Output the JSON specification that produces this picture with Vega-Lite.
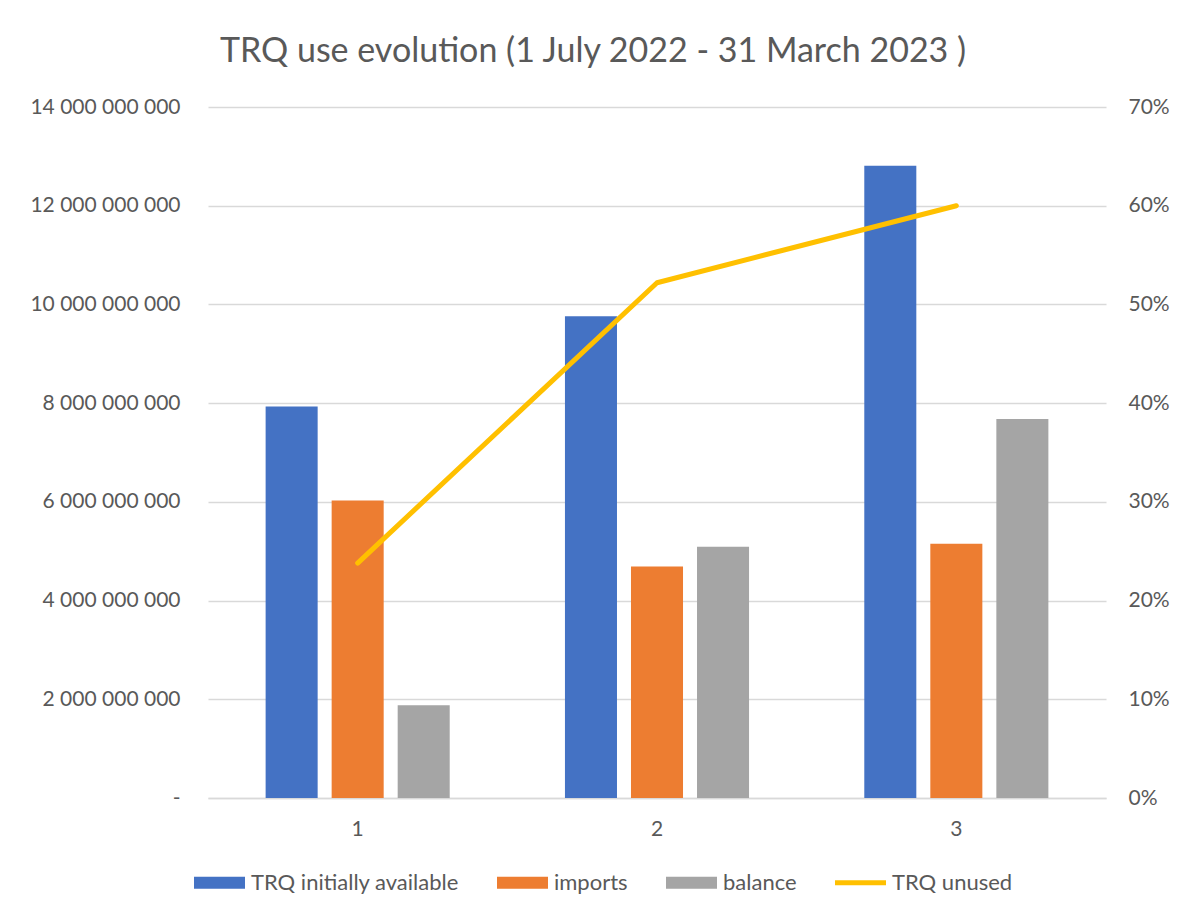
{
  "$schema": "https://vega.github.io/schema/vega-lite/v6.json",
  "autosize": "none",
  "width": 898,
  "height": 691,
  "padding": {"left": 208, "top": 107, "right": 73, "bottom": 117},
  "background": "white",
  "title": {
    "text": "TRQ use evolution (1 July 2022 - 31 March 2023 )",
    "font": "Lato",
    "fontSize": 34,
    "fontWeight": "normal",
    "color": "#595959",
    "anchor": "middle",
    "frame": "group",
    "dx": -64,
    "offset": 27
  },
  "datasets": {
    "bars": [
      {"cat": "1", "series": "TRQ initially available", "value": 7930000000},
      {"cat": "1", "series": "imports", "value": 6030000000},
      {"cat": "1", "series": "balance", "value": 1880000000},
      {"cat": "2", "series": "TRQ initially available", "value": 9760000000},
      {"cat": "2", "series": "imports", "value": 4690000000},
      {"cat": "2", "series": "balance", "value": 5090000000},
      {"cat": "3", "series": "TRQ initially available", "value": 12810000000},
      {"cat": "3", "series": "imports", "value": 5150000000},
      {"cat": "3", "series": "balance", "value": 7680000000}
    ],
    "line": [
      {"cat": "1", "series": "TRQ unused", "share": 0.238},
      {"cat": "2", "series": "TRQ unused", "share": 0.522},
      {"cat": "3", "series": "TRQ unused", "share": 0.600}
    ]
  },
  "encoding": {
    "x": {
      "field": "cat",
      "type": "nominal",
      "scale": {"paddingInner": 0.385, "paddingOuter": 0.1925},
      "axis": {
        "title": null,
        "labelAngle": 0,
        "ticks": false,
        "tickSize": 0,
        "labelPadding": 20,
        "labelFont": "Lato",
        "labelFontSize": 21,
        "labelColor": "#595959",
        "domainColor": "#d9d9d9",
        "domainWidth": 1.5
      }
    }
  },
  "layer": [
    {
      "data": {"name": "bars"},
      "mark": {"type": "bar"},
      "encoding": {
        "xOffset": {
          "field": "series",
          "type": "nominal",
          "sort": ["TRQ initially available", "imports", "balance"],
          "scale": {"paddingInner": 0.212, "paddingOuter": 0}
        },
        "y": {
          "field": "value",
          "type": "quantitative",
          "scale": {"domain": [0, 14000000000], "nice": false},
          "axis": {
            "title": null,
            "values": [0, 2000000000, 4000000000, 6000000000, 8000000000, 10000000000, 12000000000, 14000000000],
            "labelExpr": "datum.value == 0 ? '-' : replace(replace(replace(format(datum.value, ','), ',', ' '), ',', ' '), ',', ' ')",
            "ticks": false,
            "tickSize": 0,
            "domain": false,
            "labelPadding": 28,
            "labelFont": "Lato",
            "labelFontSize": 21,
            "labelColor": "#595959",
            "grid": true,
            "gridColor": "#d9d9d9",
            "gridWidth": 1.5
          }
        },
        "color": {
          "field": "series",
          "type": "nominal",
          "scale": {
            "domain": ["TRQ initially available", "imports", "balance", "TRQ unused"],
            "range": ["#4472C4", "#ED7D31", "#A5A5A5", "#FFC000"]
          },
          "legend": {
            "title": null,
            "orient": "none",
            "direction": "horizontal",
            "legendX": -14,
            "legendY": 750,
            "labelFont": "Lato",
            "labelFontSize": 22,
            "labelColor": "#595959",
            "labelLimit": 0,
            "labelOffset": 6,
            "columnPadding": 38,
            "symbolSize": 2601,
            "symbolType": "M-1,-0.235L1,-0.235L1,0.235L-1,0.235Z",
            "padding": 0,
            "encode": {
              "symbols": {
                "update": {
                  "shape": {"signal": "datum.value === 'TRQ unused' ? 'M-1,-0.1L1,-0.1L1,0.1L-1,0.1Z' : 'M-1,-0.235L1,-0.235L1,0.235L-1,0.235Z'"},
                  "fill": {"scale": "color", "field": "value"},
                  "stroke": {"value": "transparent"},
                  "strokeWidth": {"value": 0},
                  "opacity": {"value": 1}
                }
              }
            }
          }
        }
      }
    },
    {
      "data": {"name": "line"},
      "mark": {"type": "line", "strokeWidth": 5, "strokeCap": "round", "strokeJoin": "round"},
      "encoding": {
        "y": {
          "field": "share",
          "type": "quantitative",
          "scale": {"domain": [0, 0.7], "nice": false},
          "axis": {
            "title": null,
            "orient": "right",
            "values": [0, 0.1, 0.2, 0.3, 0.4, 0.5, 0.6, 0.7],
            "format": ".0%",
            "ticks": false,
            "tickSize": 0,
            "domain": false,
            "grid": false,
            "labelPadding": 22,
            "labelFont": "Lato",
            "labelFontSize": 21,
            "labelColor": "#595959"
          }
        },
        "color": {"field": "series", "type": "nominal"}
      }
    }
  ],
  "resolve": {"scale": {"y": "independent"}},
  "config": {"view": {"stroke": null}}
}
